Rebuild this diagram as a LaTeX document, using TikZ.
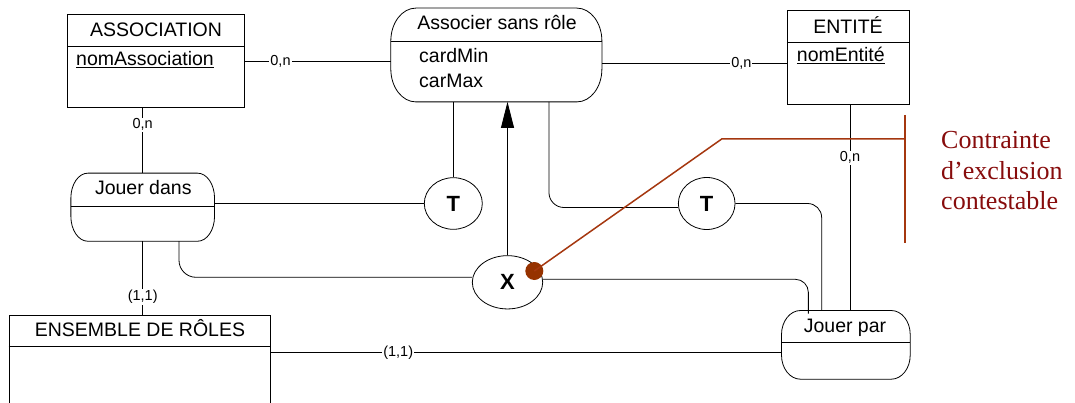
\documentclass[tikz,border=0pt]{standalone}
\usepackage{fontspec}
\setmainfont{Liberation Sans}
\newfontfamily\tnrfont{Liberation Serif}
\usetikzlibrary{arrows.meta,shapes.geometric}
\definecolor{bracketred}{RGB}{165,55,15}
\definecolor{textred}{RGB}{135,12,12}
\definecolor{dotred}{RGB}{150,50,0}
% outline of a relationship box with elliptical corners: node, x radius, y radius
\newcommand{\relshape}[3]{%
  \draw[line width=0.8pt] ([xshift=#2]#1.north west) -- ([xshift=-#2]#1.north east)
    arc[start angle=90,end angle=0,x radius=#2,y radius=#3]
    -- ([yshift=#3]#1.south east)
    arc[start angle=0,end angle=-90,x radius=#2,y radius=#3]
    -- ([xshift=#2]#1.south west)
    arc[start angle=270,end angle=180,x radius=#2,y radius=#3]
    -- ([yshift=-#3]#1.north west)
    arc[start angle=180,end angle=90,x radius=#2,y radius=#3] -- cycle;}
\begin{document}
\begin{tikzpicture}[x=1pt,y=-1pt,
  lw/.style={line width=0.8pt},
  entbox/.style={draw, lw, inner sep=0pt},
  relbox/.style={inner sep=0pt},
  opnode/.style={draw, lw, ellipse, inner sep=0pt, font=\fontsize{22}{24}\selectfont\bfseries},
  txt/.style={inner sep=0pt, anchor=base, font=\fontsize{19.5}{22}\selectfont},
  ltxt/.style={txt, anchor=base west},
  card/.style={fill=white, inner sep=1pt, font=\fontsize{14.5}{16}\selectfont},
  conn/.style={draw, lw},
  redline/.style={draw=bracketred, line width=1.5pt}
]
\useasboundingbox (0,0) rectangle (1075,403);
\clip (0,0) rectangle (1075,403);

% ---- entity boxes
\node[entbox, minimum width=177.4pt, minimum height=93pt] (assoc) at (156,61.2) {};
\draw[lw] (assoc.west |- 0,46.3) -- (assoc.east |- 0,46.3);
\node[txt] (assocT) at (156,36.7) {ASSOCIATION};
\node[ltxt] (assocA) at (76,66) {\underline{nomAssociation}};

\node[entbox, minimum width=122pt, minimum height=93.3pt] (ent) at (848.3,57.35) {};
\draw[lw] (ent.west |- 0,42.7) -- (ent.east |- 0,42.7);
\node[txt] (entT) at (848,33.3) {ENTITÉ};
\node[ltxt] (entA) at (796.7,61.7) {\underline{nomEntité}};

\node[entbox, minimum width=261.7pt, minimum height=110pt] (ens) at (139.85,370) {};
\draw[lw] (ens.west |- 0,346.7) -- (ens.east |- 0,346.7);
\node[txt] (ensT) at (140,336.7) {ENSEMBLE DE RÔLES};

% ---- relationship boxes
\node[relbox, minimum width=210.7pt, minimum height=93.4pt] (associer) at (496.35,55) {};
\relshape{associer}{25pt}{33pt}
\draw[lw] (associer.west |- 0,41) -- (associer.east |- 0,41);
\node[txt] (associerT) at (497,30) {Associer sans rôle};
\node[ltxt] (associerA) at (419,62.3) {cardMin};
\node[ltxt] (associerB) at (419,87.7) {carMax};

\node[relbox, minimum width=143.3pt, minimum height=67.7pt] (jdans) at (142.7,207.2) {};
\relshape{jdans}{17pt}{25pt}
\draw[lw] (jdans.west |- 0,206) -- (jdans.east |- 0,206);
\node[txt] (jdansT) at (143.3,195) {Jouer dans};

\node[relbox, minimum width=128.3pt, minimum height=68.3pt] (jpar) at (845.85,344.85) {};
\relshape{jpar}{19pt}{24pt}
\draw[lw] (jpar.west |- 0,342.7) -- (jpar.east |- 0,342.7);
\node[txt] (jparT) at (845,332.7) {Jouer par};

% ---- operator ellipses
\node[opnode, minimum width=58pt, minimum height=51.6pt] (t1) at (453.3,203.5) {T};
\node[opnode, minimum width=56.7pt, minimum height=52pt] (t2) at (706.7,203.5) {T};
\node[opnode, minimum width=70.4pt, minimum height=53.3pt] (xop) at (507.5,282.3) {X};

% ---- connectors with cardinalities
\draw[conn] (assoc.east) -- node[card, pos=0.243] {0,n} (assoc.east -| associer.west);
\draw[conn] ([yshift=-8pt]associer.east) -- node[card, pos=0.754] {0,n} ([yshift=-8pt]associer.east -| ent.west);
\draw[conn] (assoc.south -| jdans.north) -- node[card, pos=0.256] {0,n} (jdans.north);
\draw[conn] (jdans.south) -- node[card, pos=0.761] {(1,1)} (jdans.south |- ens.north);
\draw[conn] ([xshift=1.7pt]ent.south) -- node[card, pos=0.259] {0,n} ([xshift=1.7pt]ent.south |- jpar.north);
\draw[conn] ([yshift=-8pt]jpar.west) -- node[card, pos=0.751] {(1,1)} ([yshift=-8pt]jpar.west -| ens.east);

% ---- connectors to operators
\draw[conn] (t1.west -| jdans.east) -- (t1.west);
\draw[conn] (t1.north |- associer.south) -- (t1.north);
\draw[conn, -{Triangle[length=26pt,width=13pt]}] (xop.north) -- (xop.north |- associer.south);
\draw[conn, rounded corners=17pt] ([xshift=36.3pt]jdans.south) |- ([yshift=5pt]xop.west);
\draw[conn, rounded corners=13pt] ([yshift=3pt]xop.east) -| ([xshift=-37.5pt,yshift=-3pt]jpar.north);
\draw[conn, rounded corners=15pt] ([xshift=52.6pt]associer.south) |- ([yshift=-4pt]t2.west);
\draw[conn, rounded corners=14pt] (t2.east) -| ([xshift=-24.2pt]jpar.north);

% ---- exclusion constraint
\coordinate (bend) at (721.7,139);
\coordinate (barmid) at (905,139);
\coordinate (bartop) at (905,115);
\coordinate (barbot) at (905,243.3);
\node[circle, fill=dotred, minimum size=18pt, inner sep=0pt] (dot) at (534.3,271) {};
\draw[redline] (dot.center) -- (bend) -- (barmid);
\draw[redline] (bartop) -- (barbot);
\node[anchor=north west, inner sep=0pt, align=left, text=textred,
      font=\tnrfont\fontsize{26}{30.5}\selectfont] (note) at (941,131.4)
  {Contrainte\\d’exclusion\\contestable};
\end{tikzpicture}
\end{document}
